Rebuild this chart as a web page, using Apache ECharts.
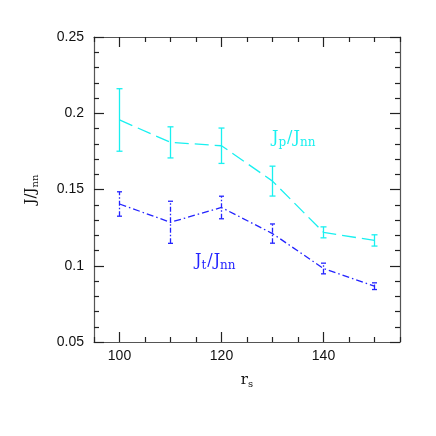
<!DOCTYPE html>
<html>
<head>
<meta charset="utf-8">
<script src="https://cdn.jsdelivr.net/npm/echarts@6/dist/echarts.min.js"></script>
<style>
  html, body { margin: 0; padding: 0; background: #fff; }
  #main { width: 436px; height: 436px; }
</style>
</head>
<body>
<div id="main"></div>
<script>
// data
var rs = [100, 110, 120, 130, 140, 150];
var jp = [0.1956, 0.1809, 0.1787, 0.1555, 0.1219, 0.1166];
var jpErr = [0.0205, 0.0102, 0.0116, 0.0098, 0.0036, 0.0037];
var jt = [0.1405, 0.1285, 0.1382, 0.1211, 0.0982, 0.0866];
var jtErr = [0.0080, 0.0138, 0.0074, 0.0063, 0.0035, 0.0022];

var xMajor = [100, 120, 140];
var xMinor = [95, 105, 110, 115, 125, 130, 135, 145, 150, 155];

var CYAN = '#19f0f0';
var BLUE = '#2323ff';
var FRAME = '#555';
var SERIF = 'DejaVu Serif';

function pairs(xs, ys) {
    return xs.map(function (x, i) { return [x, ys[i]]; });
}
function errRows(xs, ys, es) {
    return xs.map(function (x, i) { return [x, ys[i] - es[i], ys[i] + es[i]]; });
}

// draws one error bar with caps through the axis scales
function errorBar(color, capW, dash) {
    return function (params, api) {
        var lo = api.coord([api.value(0), api.value(1)]);
        var hi = api.coord([api.value(0), api.value(2)]);
        var st = { stroke: color, lineWidth: 1.3, lineDash: dash };
        return {
            type: 'group',
            children: [
                { type: 'line', shape: { x1: lo[0], y1: lo[1], x2: hi[0], y2: hi[1] }, style: st },
                { type: 'line', shape: { x1: lo[0] - capW, y1: lo[1], x2: lo[0] + capW, y2: lo[1] }, style: { stroke: color, lineWidth: 1.3 } },
                { type: 'line', shape: { x1: hi[0] - capW, y1: hi[1], x2: hi[0] + capW, y2: hi[1] }, style: { stroke: color, lineWidth: 1.3 } }
            ]
        };
    };
}

function xAx(pos, ticks, len, labels, line) {
    return {
        type: 'value', position: pos, min: 95, max: 155,
        axisLine: { show: line, onZero: false, lineStyle: { color: FRAME, width: 1.2 } },
        axisTick: { show: true, inside: true, length: len, customValues: ticks, lineStyle: { color: '#222', width: 1.2 } },
        axisLabel: labels ? { show: true, customValues: xMajor, margin: 7, color: '#111', fontSize: 14, fontFamily: 'Liberation Sans' } : { show: false },
        splitLine: { show: false }
    };
}

function yAx(pos, labels) {
    return {
        type: 'value', position: pos, min: 0.05, max: 0.25, interval: 0.05,
        axisLine: { show: true, onZero: false, lineStyle: { color: FRAME, width: 1.2 } },
        axisTick: { show: true, inside: true, length: 10, lineStyle: { color: '#222', width: 1.2 } },
        minorTick: { show: true, splitNumber: 5, length: 5, lineStyle: { color: '#222', width: 1.2 } },
        axisLabel: labels ? { show: true, margin: 10, color: '#111', fontSize: 14, fontFamily: 'Liberation Sans',
            formatter: function (v) { return +v.toFixed(2) + ''; } } : { show: false },
        splitLine: { show: false }
    };
}

function richName(color) {
    return {
        a: { fontFamily: SERIF, fontSize: 15, color: color },
        s: { fontFamily: SERIF, fontSize: 10, color: color, verticalAlign: 'bottom', padding: [7, 0, 0, 0] }
    };
}

var chart = echarts.init(document.getElementById('main'));

var xs = [
    xAx('bottom', xMajor, 10, true, true),
    xAx('bottom', xMinor, 5, false, false),
    xAx('top', xMajor, 10, false, true),
    xAx('top', xMinor, 5, false, false)
];
xs[0].name = '{a|r}{s|s}';
xs[0].nameLocation = 'middle';
xs[0].nameGap = 30;
xs[0].nameTextStyle = { rich: richName('#111') };

var ys = [yAx('left', true), yAx('right', false)];
ys[0].name = '{a|J/J}{s|nn}';
ys[0].nameLocation = 'middle';
ys[0].nameGap = 54;
ys[0].nameRotate = 90;
ys[0].nameTextStyle = { rich: richName('#111') };

function seriesLabel(sub, color) {
    return {
        text: '{a|J}{s|' + sub + '}{sl|/}{a|J}{s|nn}',
        rich: {
            a: { fontFamily: SERIF, fontSize: 16, fill: color },
            sl: { fontFamily: SERIF, fontSize: 16, fill: color, padding: [0, 1, 0, 1] },
            s: { fontFamily: SERIF, fontSize: 12, fill: color, padding: [9, 0, 0, 0] }
        }
    };
}

var option = {
    animation: false,
    grid: { left: 94, right: 36, top: 37, bottom: 94 },
    xAxis: xs,
    yAxis: ys,
    graphic: [
        { type: 'text', left: 272, top: 130, style: seriesLabel('p', CYAN) },
        { type: 'text', left: 195, top: 253, style: seriesLabel('t', BLUE) }
    ],
    series: [
        {
            type: 'line', data: pairs(rs, jp), symbol: 'none',
            lineStyle: { color: CYAN, width: 1.3, type: [14, 6] }
        },
        {
            type: 'custom', data: errRows(rs, jp, jpErr),
            renderItem: errorBar(CYAN, 3, null), z: 3
        },
        {
            type: 'line', data: pairs(rs, jt), symbol: 'none',
            lineStyle: { color: BLUE, width: 1.3, type: [7, 3, 1.5, 3] }
        },
        {
            type: 'custom', data: errRows(rs, jt, jtErr),
            renderItem: errorBar(BLUE, 2.5, [5, 2, 1.5, 2]), z: 3
        }
    ]
};

chart.setOption(option);
</script>
</body>
</html>
